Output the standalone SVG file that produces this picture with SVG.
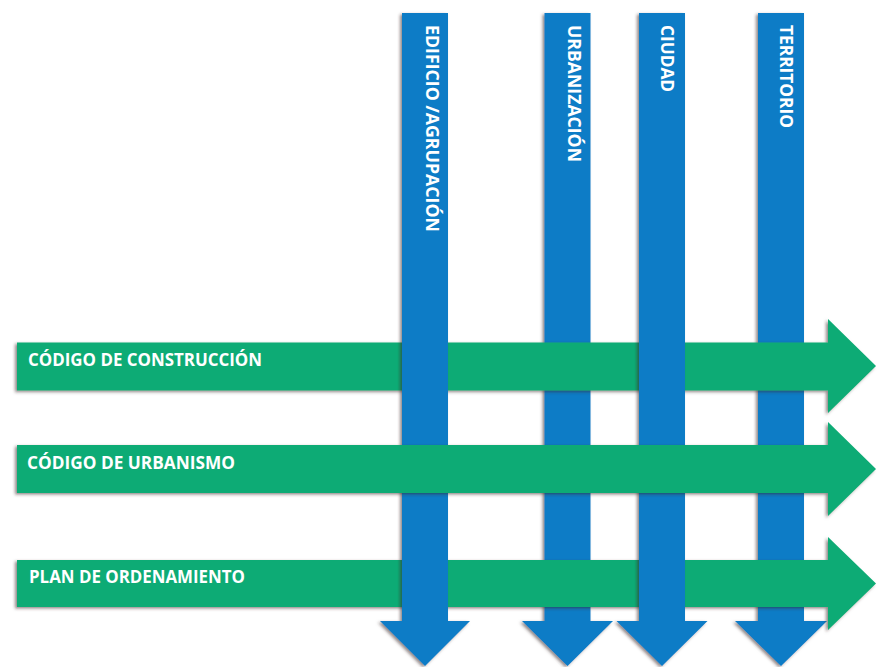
<svg xmlns="http://www.w3.org/2000/svg" width="877" height="667" viewBox="0 0 877 667">
  <defs>
    <filter id="sh" x="-20%" y="-20%" width="140%" height="140%">
      <feDropShadow dx="-2" dy="1.5" stdDeviation="1.6" flood-color="#3a2a2a" flood-opacity="0.55"/>
    </filter>
  </defs>
  <style>
    .blue { fill: #0a7bc6; filter: url(#sh); }
    .green { fill: #0bab74; filter: url(#sh); }
    .lbl { fill: #ffffff; font-family: "Open Sans", "Liberation Sans", sans-serif; font-weight: bold; font-size: 18px; }
  </style>
  <rect width="877" height="667" fill="#ffffff"/>
  <g id="connectors">
    <g id="col-urbanizacion">
      <path class="blue" d="M544.5,13 H590.5 V621 H613 L567.5,666 L522,621 H544.5 Z"/>
      <text class="lbl" transform="translate(568,25) rotate(90)" textLength="137" lengthAdjust="spacingAndGlyphs">URBANIZACIÓN</text>
    </g>
    <g id="col-territorio">
      <path class="blue" d="M758,13 H804 V621 H827 L781,666 L735,621 H758 Z"/>
      <text class="lbl" transform="translate(780,25) rotate(90)" textLength="103" lengthAdjust="spacingAndGlyphs">TERRITORIO</text>
    </g>
    <g id="row-construccion">
      <path class="green" d="M17,342.5 H828 V319 L876,366 L828,413 V390.5 H17 Z"/>
      <text class="lbl" x="28" y="366" textLength="234" lengthAdjust="spacingAndGlyphs">CÓDIGO DE CONSTRUCCIÓN</text>
    </g>
    <g id="row-ordenamiento">
      <path class="green" d="M17,560 H828 V537 L876,583.5 L828,630 V607 H17 Z"/>
      <text class="lbl" x="29" y="583" textLength="216" lengthAdjust="spacingAndGlyphs">PLAN DE ORDENAMIENTO</text>
    </g>
    <g id="col-edificio">
      <path class="blue" d="M402,13 H448 V621 H470 L425,666 L380,621 H402 Z"/>
      <text class="lbl" transform="translate(426,25) rotate(90)" textLength="207" lengthAdjust="spacingAndGlyphs">EDIFICIO /AGRUPACIÓN</text>
    </g>
    <g id="col-ciudad">
      <path class="blue" d="M639,13 H685 V621 H707.5 L662,666 L616.5,621 H639 Z"/>
      <text class="lbl" transform="translate(661,25) rotate(90)" textLength="67" lengthAdjust="spacingAndGlyphs">CIUDAD</text>
    </g>
    <g id="row-urbanismo">
      <path class="green" d="M17,445 H828 V422 L876,469 L828,516 V493 H17 Z"/>
      <text class="lbl" x="27" y="469" textLength="208" lengthAdjust="spacingAndGlyphs">CÓDIGO DE URBANISMO</text>
    </g>
  </g>
</svg>
